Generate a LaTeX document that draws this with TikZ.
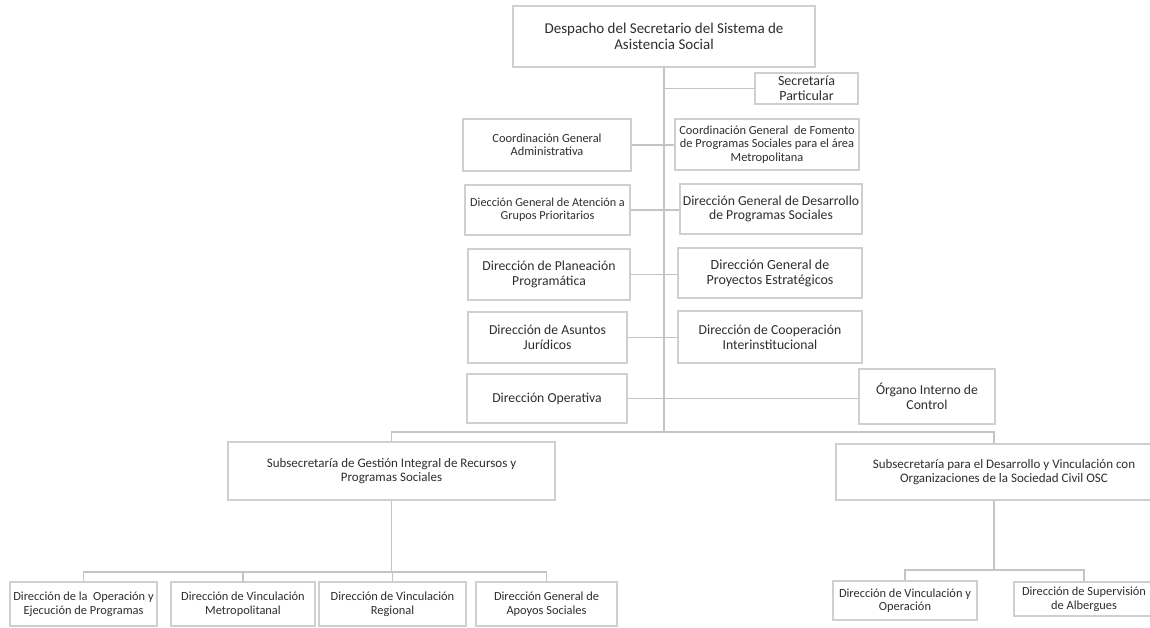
\documentclass[tikz,border=0pt]{standalone}
\usepackage{fontspec}
\setmainfont{Carlito}
\definecolor{linegray}{HTML}{C4C4C4}
\definecolor{boxgray}{HTML}{CFCFCF}
\definecolor{txtgray}{HTML}{2E2E2E}
\newcommand{\fsz}[2]{\fontsize{#1}{#2}\selectfont}
\begin{document}
\begin{tikzpicture}[x=1pt,y=-1pt,
    box/.style={draw=boxgray, line width=1.2pt, align=center, text=txtgray, inner sep=0pt},
    conn/.style={draw=linegray, line width=1.2pt}]
    \path[use as bounding box, fill=white] (0,0) rectangle (1150,627);
    \node[box, minimum width=302pt, minimum height=61pt, font=\fsz{15}{16}] (desp) at (664,36.5) {Despacho del Secretario del Sistema de\\Asistencia Social};
    \node[box, minimum width=103pt, minimum height=31pt, font=\fsz{14}{15}] (secpart) at (806.5,88.5) {Secretaría\\Particular};
    \node[box, minimum width=168pt, minimum height=52pt, font=\fsz{12.4}{13.4}] (cga) at (547,145) {Coordinación General\\Administrativa};
    \node[box, minimum width=184pt, minimum height=51pt, font=\fsz{12.4}{13.4}] (cgf) at (767,144.5) {Coordinación General\ \ de Fomento\\de Programas Sociales para el área\\Metropolitana};
    \node[box, minimum width=165pt, minimum height=50pt, font=\fsz{12.2}{13.2}] (dgap) at (547.5,210) {Diección General de Atención a\\Grupos Prioritarios};
    \node[box, minimum width=182pt, minimum height=50pt, font=\fsz{13.7}{14.8}] (dgdps) at (771,209) {Dirección General de Desarrollo\\de Programas Sociales};
    \node[box, minimum width=162pt, minimum height=51pt, font=\fsz{13.7}{14.8}] (dpp) at (549,274.5) {Dirección de Planeación\\Programática};
    \node[box, minimum width=184pt, minimum height=50pt, font=\fsz{14}{15}] (dgpe) at (770,273) {Dirección General de\\Proyectos Estratégicos};
    \node[box, minimum width=159pt, minimum height=51pt, font=\fsz{13.7}{14.8}] (daj) at (547.5,337.5) {Dirección de Asuntos\\Jurídicos};
    \node[box, minimum width=184pt, minimum height=52pt, font=\fsz{13.7}{14.8}] (dci) at (770,337) {Dirección de Cooperación\\Interinstitucional};
    \node[box, minimum width=160pt, minimum height=49pt, font=\fsz{13.7}{14.8}] (dop) at (547,398.5) {Dirección Operativa};
    \node[box, minimum width=136pt, minimum height=55pt, font=\fsz{13.7}{14.8}] (oic) at (927,396.5) {Órgano Interno de\\Control};
    \node[box, minimum width=327pt, minimum height=58pt, font=\fsz{13}{14}] (subl) at (391.5,471) {Subsecretaría de Gestión Integral de Recursos y\\Programas Sociales};
    \node[box, minimum width=336pt, minimum height=56pt, font=\fsz{13}{14}] (subr) at (1004,472) {Subsecretaría para el Desarrollo y Vinculación con\\Organizaciones de la Sociedad Civil OSC};
    \node[box, minimum width=147pt, minimum height=44pt, font=\fsz{12.4}{13.6}] (dope) at (83.5,604) {Dirección de la\ \ Operación y\\Ejecución de Programas};
    \node[box, minimum width=144pt, minimum height=44pt, font=\fsz{12.4}{13.6}] (dvm) at (243,604) {Dirección de Vinculación\\Metropolitanal};
    \node[box, minimum width=147pt, minimum height=44pt, font=\fsz{12.4}{13.6}] (dvr) at (392.5,604) {Dirección de Vinculación\\Regional};
    \node[box, minimum width=141pt, minimum height=44pt, font=\fsz{12.4}{13.6}] (dgas) at (546.5,604) {Dirección General de\\Apoyos Sociales};
    \node[box, minimum width=144pt, minimum height=39pt, font=\fsz{12.4}{13.6}] (dvo) at (905,600.5) {Dirección de Vinculación y\\Operación};
    \node[box, minimum width=140pt, minimum height=34pt, font=\fsz{12.4}{13.6}] (dsa) at (1084,599) {Dirección de Supervisión\\de Albergues};
    \coordinate (spine) at (664,432);
    \coordinate (subrtop) at ([xshift=-10pt]subr.north);
    \coordinate (subrbot) at ([xshift=-10pt]subr.south);
    \coordinate (busl) at (391.5,572);
    \coordinate (busr) at (994,570);
    \draw[conn] (desp.south) -- (spine);
    \draw[conn] (desp.south |- secpart.west) -- (secpart.west);
    \draw[conn] (cga.east) -- (cga.east -| cgf.west);
    \draw[conn] (dgap.east) -- (dgap.east -| dgdps.west);
    \draw[conn] (dpp.east) -- (dpp.east -| dgpe.west);
    \draw[conn] (daj.east) -- (daj.east -| dci.west);
    \draw[conn] (dop.east) -- (dop.east -| oic.west);
    \draw[conn] (subl.north) |- (spine) -| (subrtop);
    \draw[conn] (subl.south) -- (busl);
    \foreach \n in {dope,dvm,dvr,dgas}
        \draw[conn] (busl) -| (\n.north);
    \draw[conn] (subrbot) -- (busr);
    \foreach \n in {dvo,dsa}
        \draw[conn] (busr) -| (\n.north);
\end{tikzpicture}
\end{document}
